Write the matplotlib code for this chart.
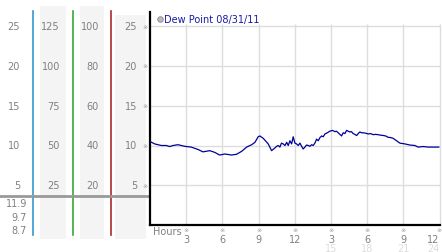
# Dew point chart, 08/31/11 (24 hours)
import matplotlib
matplotlib.use('Agg')
import matplotlib.pyplot as plt
from matplotlib.patches import Rectangle
from matplotlib.transforms import blended_transform_factory

hours = [0.0, 0.39, 0.94, 1.35, 1.63, 1.91, 2.32, 2.87, 3.42, 3.98, 4.39, 4.95,
         5.36, 5.77, 6.21, 6.77, 7.18, 7.60, 8.01, 8.43, 8.70, 8.97, 9.11, 9.39,
         9.80, 10.08, 10.36, 10.50, 10.63, 10.77, 10.90, 11.04, 11.19, 11.33, 11.46,
         11.60, 11.74, 11.87, 12.01, 12.15, 12.29, 12.43, 12.57, 12.70, 12.84, 12.98,
         13.12, 13.26, 13.40, 13.53, 13.67, 13.81, 13.95, 14.09, 14.23, 14.36, 14.50,
         14.70, 14.91, 15.12, 15.33, 15.46, 15.60, 15.74, 15.88, 16.02, 16.16, 16.30,
         16.43, 16.57, 16.70, 16.84, 16.98, 17.13, 17.26, 17.40, 17.54, 17.67, 17.88,
         18.09, 18.30, 18.50, 18.70, 18.91, 19.12, 19.33, 19.54, 19.74, 19.95, 20.16,
         20.44, 20.71, 20.92, 21.13, 21.54, 21.96, 22.23, 22.64, 23.06, 23.40, 23.75,
         23.94]
dew_point = [10.5, 10.2, 10.0, 10.0, 9.87, 10.0, 10.1, 9.9, 9.8, 9.5, 9.2, 9.35,
             9.14, 8.8, 8.93, 8.8, 8.9, 9.27, 9.8, 10.1, 10.4, 11.1, 11.2, 10.9,
             10.2, 9.35, 9.7, 9.9, 10.0, 9.8, 10.3, 10.2, 10.0, 10.4, 10.0,
             10.6, 10.2, 11.1, 10.3, 10.2, 10.0, 10.3, 9.9, 9.56, 9.8, 10.06,
             10.0, 9.9, 10.1, 10.0, 10.3, 10.8, 10.6, 11.0, 11.2, 11.1, 11.45,
             11.6, 11.8, 11.9, 11.74, 11.8, 11.6, 11.4, 11.2, 11.6, 11.5, 11.9,
             11.8, 11.7, 11.75, 11.5, 11.4, 11.25, 11.5, 11.7, 11.6, 11.6, 11.55,
             11.45, 11.5, 11.36, 11.4, 11.36, 11.3, 11.26, 11.2, 11.03, 11.0, 10.9,
             10.6, 10.3, 10.25, 10.2, 10.06, 10.0, 9.8, 9.87, 9.8, 9.8, 9.8,
             9.8]

scale_dew = [25, 20, 15, 10, 5]
scale_col2 = [125, 100, 75, 50, 25]
scale_col3 = [100, 80, 60, 40, 20]
extra_vals = ['11.9', '9.7', '8.7']
hour_ticks = [3, 6, 9, 12, 15, 18, 21, 24]
hour_labels = ['3', '6', '9', '12', '3', '6', '9', '12']
hour_labels2 = ['', '', '', '', '15', '18', '21', '24']

W, H = 442, 253
FS = 7
GREY = '#808080'
plt.rcParams['font.family'] = ['DejaVu Sans', 'Noto Sans CJK JP']

fig = plt.figure(figsize=(W / 100, H / 100), dpi=100)

# pixel-space background axes for the left scale panel
bg = fig.add_axes([0, 0, 1, 1])
bg.set_xlim(0, W)
bg.set_ylim(H, 0)
bg.axis('off')

ax = fig.add_axes([150 / W, (H - 226) / H, 289.5 / W, 213 / H])
ax.patch.set_alpha(0)
ax.set_xlim(0, 24)
ax.set_ylim(0, 213 / 7.95)

# shaded columns
for x0, y0, w in [(40, 7, 26), (80, 7, 24), (115, 16, 31)]:
    bg.add_patch(Rectangle((x0, y0), w, 240 - y0, color='#f4f4f4', lw=0))

# coloured separators
for x, c in [(33, '#3399cc'), (72.5, '#33aa33'), (111, '#aa2a2a')]:
    bg.plot([x, x], [12, 236], color=c, lw=1.2)
bg.plot([0, 149], [197, 197], color='#999999', lw=2)

tr_left = blended_transform_factory(bg.transData, ax.transData)
for v, a, b in zip(scale_dew, scale_col2, scale_col3):
    bg.text(20, v, str(v), transform=tr_left, ha='right', va='center', fontsize=FS, color=GREY)
    bg.text(60, v, str(a), transform=tr_left, ha='right', va='center', fontsize=FS, color=GREY)
    bg.text(99, v, str(b), transform=tr_left, ha='right', va='center', fontsize=FS, color=GREY)
    bg.text(137, v, str(v), transform=tr_left, ha='right', va='center', fontsize=FS, color=GREY)
    bg.text(145.5, v, '※', transform=tr_left, ha='center', va='center', fontsize=4.5, color='#999999')

for y, s in zip([204, 218, 231], extra_vals):
    bg.text(27, y, s, ha='right', va='center', fontsize=FS, color=GREY)

# grid
for v in scale_dew:
    ax.axhline(v, color='#dddddd', lw=1, zorder=0)
ax.vlines(hour_ticks, 0, 25.3, color='#dddddd', lw=1, zorder=0, clip_on=False)

ax.plot(hours, dew_point, color='#000099', lw=0.9, zorder=3)

for s in ['top', 'right']:
    ax.spines[s].set_visible(False)
for s in ['left', 'bottom']:
    ax.spines[s].set_color('black')
    ax.spines[s].set_linewidth(1.6)
ax.set_xticks([])
ax.set_yticks([])

# hour labels (last column pulled inside the right edge)
tr_bot = blended_transform_factory(ax.transData, bg.transData)
for h, l1, l2 in zip(hour_ticks, hour_labels, hour_labels2):
    ha = 'right' if h == hour_ticks[-1] else 'center'
    bg.text(h, 231, '※', transform=tr_bot, ha='center', va='center', fontsize=4.5, color='#999999')
    bg.text(h, 240, l1, transform=tr_bot, ha=ha, va='center', fontsize=FS, color=GREY)
    bg.text(h, 249.5, l2, transform=tr_bot, ha=ha, va='center', fontsize=FS, color='#dddddd')
bg.text(153, 232, 'Hours', ha='left', va='center', fontsize=FS, color=GREY)

# legend
bg.plot(159.5, 19.5, 'o', ms=4, mfc='#bbbbbb', mec='#888888', mew=0.6)
bg.text(164.5, 19.5, 'Dew Point 08/31/11', ha='left', va='center', fontsize=FS, color='#1a1aa6')

fig.savefig('out.png', dpi=100)
